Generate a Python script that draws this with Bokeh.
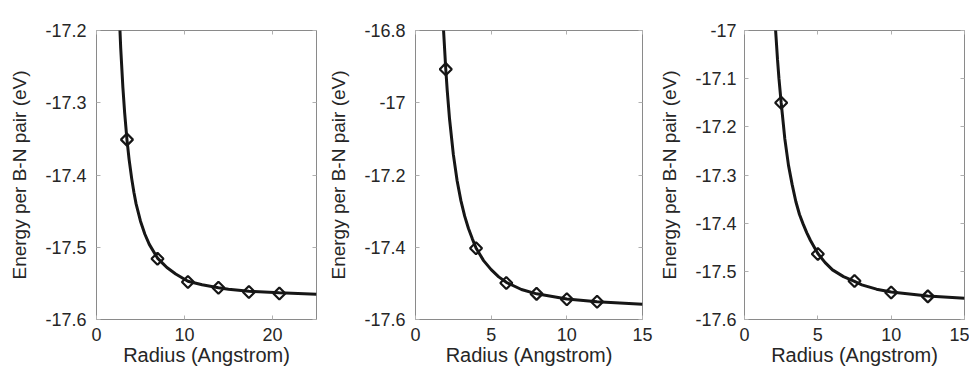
import math
from bokeh.plotting import figure
from bokeh.models import Range1d, FixedTicker, LinearAxis
from bokeh.layouts import row
from bokeh.embed import file_html
from bokeh.resources import INLINE

# ---------------- data ----------------
# Panel 1
P1_CURVE_R = [2.5, 2.75, 3.0, 3.2, 3.46, 3.7, 4.0, 4.25, 4.5, 5.0, 5.5, 6.0, 6.93, 7.5, 8.0, 9.0,
              10.39, 12.0, 13.86, 15.0, 17.32, 20.78, 25.0]
P1_CURVE_E = [-17.152, -17.224, -17.279, -17.314, -17.351, -17.378, -17.405, -17.424, -17.440,
              -17.464, -17.482, -17.496, -17.515, -17.522, -17.528, -17.537, -17.547, -17.552,
              -17.556, -17.558, -17.561, -17.563, -17.565]
P1_PTS_R = [3.46, 6.93, 10.39, 13.86, 17.32, 20.78]
P1_PTS_E = [-17.351, -17.516, -17.548, -17.556, -17.562, -17.564]
P1_XTICKS = [0, 10, 20]
P1_YTICKS = [-17.6, -17.5, -17.4, -17.3, -17.2]
P1_YLABELS = ["-17.6", "-17.5", "-17.4", "-17.3", "-17.2"]

# Panel 2
P2_CURVE_R = [1.85, 2.0, 2.1, 2.25, 2.5, 2.75, 3.0, 3.25, 3.5, 3.75, 4.0, 4.5, 5.0, 5.5, 6.0,
              7.0, 8.0, 10.0, 12.0, 15.0]
P2_CURVE_E = [-16.797, -16.907, -16.968, -17.045, -17.143, -17.216, -17.271, -17.314, -17.348,
              -17.376, -17.402, -17.437, -17.462, -17.482, -17.497, -17.517, -17.529, -17.543,
              -17.551, -17.558]
P2_PTS_R = [2, 4, 6, 8, 10, 12]
P2_PTS_E = [-16.907, -17.403, -17.499, -17.529, -17.544, -17.551]
P2_XTICKS = [0, 5, 10, 15]
P2_YTICKS = [-17.6, -17.4, -17.2, -17.0, -16.8]
P2_YLABELS = ["-17.6", "-17.4", "-17.2", "-17", "-16.8"]

# Panel 3
P3_CURVE_R = [2.1, 2.25, 2.35, 2.5, 2.6, 2.75, 3.0, 3.25, 3.5, 3.75, 4.0, 4.25, 4.5, 5.0, 5.5,
              6.0, 6.75, 7.5, 8.0, 9.0, 10.0, 12.5, 15.0]
P3_CURVE_E = [-16.99, -17.06, -17.10, -17.15, -17.18, -17.225, -17.28, -17.32, -17.355, -17.382,
              -17.402, -17.42, -17.436, -17.463, -17.482, -17.497, -17.511, -17.521, -17.528,
              -17.537, -17.543, -17.551, -17.556]
P3_PTS_R = [2.5, 5.0, 7.5, 10.0, 12.5]
P3_PTS_E = [-17.150, -17.464, -17.520, -17.544, -17.552]
P3_XTICKS = [0, 5, 10, 15]
P3_YTICKS = [-17.6, -17.5, -17.4, -17.3, -17.2, -17.1, -17.0]
P3_YLABELS = ["-17.6", "-17.5", "-17.4", "-17.3", "-17.2", "-17.1", "-17"]

X_LABEL = "Radius (Angstrom)"
Y_LABEL = "Energy per B-N pair (eV)"

FONT = "Liberation Sans"
TEXT_COLOR = "#262626"
FRAME_COLOR = "#8a8a8a"
TICK_COLOR = "#b0b0b0"
LINE_COLOR = "#161616"


def style_axis(ax, ticks, show_labels=True):
    ax.axis_line_color = None
    ax.major_tick_in = 4
    ax.major_tick_out = 0
    ax.major_tick_line_color = TICK_COLOR
    ax.minor_tick_line_color = None
    if show_labels:
        ax.major_label_text_font = FONT
        ax.major_label_text_font_size = "18px"
        ax.major_label_text_color = TEXT_COLOR
    else:
        ax.major_label_overrides = {t: "" for t in ticks}
        ax.major_label_standoff = 0


def panel(width, height, bl, br, bt, bb, ystand, xr, yr, xticks, yticks, ylabels,
          cr, ce, pr, pe):
    p = figure(width=width, height=height, output_backend="svg", toolbar_location=None,
               x_range=Range1d(*xr), y_range=Range1d(*yr),
               min_border_left=bl, min_border_right=br, min_border_top=bt,
               min_border_bottom=bb)
    p.grid.visible = False
    p.outline_line_color = FRAME_COLOR
    p.outline_line_width = 1
    p.background_fill_color = "white"
    p.border_fill_color = "white"

    xa = p.xaxis[0]
    ya = p.yaxis[0]
    style_axis(xa, xticks)
    style_axis(ya, yticks)
    xa.ticker = FixedTicker(ticks=xticks)
    ya.ticker = FixedTicker(ticks=yticks)
    ya.major_label_overrides = {t: l for t, l in zip(yticks, ylabels)}
    xa.major_label_standoff = 8
    ya.major_label_standoff = ystand
    xa.axis_label = X_LABEL
    ya.axis_label = Y_LABEL
    for a in (xa, ya):
        a.axis_label_text_font = FONT
        a.axis_label_text_font_style = "normal"
        a.axis_label_text_color = TEXT_COLOR
    xa.axis_label_text_font_size = "20px"
    ya.axis_label_text_font_size = "19px"
    xa.axis_label_standoff = 0
    ya.axis_label_standoff = 12

    top = LinearAxis(ticker=FixedTicker(ticks=xticks))
    right = LinearAxis(ticker=FixedTicker(ticks=yticks))
    style_axis(top, xticks, False)
    style_axis(right, yticks, False)
    p.add_layout(top, "above")
    p.add_layout(right, "right")

    p.line(cr, ce, line_color=LINE_COLOR, line_width=3)
    p.scatter(pr, pe, marker="square", angle=math.pi / 4, size=8.5,
              fill_color="white", fill_alpha=0.0, line_color=LINE_COLOR, line_width=2.2)
    return p


p1 = panel(321, 368, 96, 5, 29, 46, 10, (0, 25), (-17.6, -17.2), P1_XTICKS, P1_YTICKS, P1_YLABELS,
           P1_CURVE_R, P1_CURVE_E, P1_PTS_R, P1_PTS_E)
p2 = panel(333, 368, 94, 12, 30, 46, 10, (0, 15), (-17.6, -16.8), P2_XTICKS, P2_YTICKS, P2_YLABELS,
           P2_CURVE_R, P2_CURVE_E, P2_PTS_R, P2_PTS_E)
p3 = panel(315, 368, 90, 5, 19, 47, 8, (0, 15), (-17.6, -17.0), P3_XTICKS, P3_YTICKS, P3_YLABELS,
           P3_CURVE_R, P3_CURVE_E, P3_PTS_R, P3_PTS_E)

layout = row(p1, p2, p3, spacing=0)
open("out.html", "w").write(file_html(layout, INLINE))
